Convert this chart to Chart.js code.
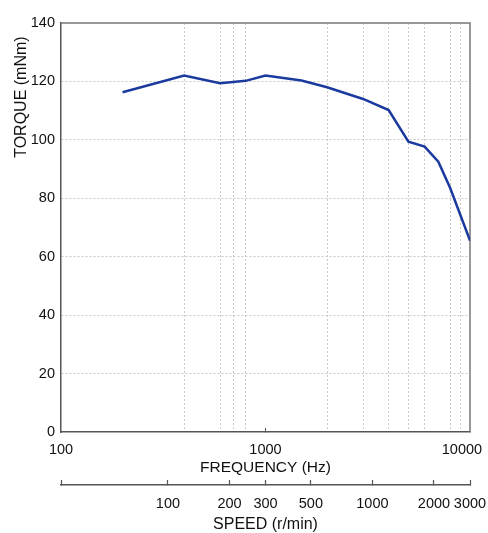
<!DOCTYPE html>
<html>
<head>
<meta charset="utf-8">
<script src="https://cdn.jsdelivr.net/npm/chart.js@4.4.1/dist/chart.umd.min.js"></script>
<style>
  html, body { margin: 0; padding: 0; background: #fff; }
  #wrap { width: 488px; height: 533px; }
</style>
</head>
<body>
<div id="wrap"><canvas id="grafica"></canvas></div>
<script>
// --- datos ---
const freq = [200, 400, 600, 800, 1000, 1500, 2000, 3000, 4000, 5000, 6000, 7000, 8000, 10000];
const torque = [116.3, 122.0, 119.4, 120.2, 122.0, 120.3, 118.0, 114.0, 110.2, 99.4, 97.7, 92.5, 83.5, 65.5];

const freqLabels = [100, 1000, 10000];
const freqGrid = [400, 600, 700, 800, 2000, 3000, 4000, 5000, 6000, 8000, 9000];
const speedTicks = [30, 100, 200, 300, 500, 1000, 2000, 3000];
const speedLabels = [100, 200, 300, 500, 1000, 2000, 3000];
const torqueTicks = [0, 20, 40, 60, 80, 100, 120, 140];

const NUM = '"Liberation Sans", Arial, sans-serif';
const SANS = '"Liberation Sans", Arial, sans-serif';
const TEXT = '#111';
const AXIS = '#555';
const GRID = '#c8c8c8';
const NB = '\u00a0';

// marco superior y derecho del área de la gráfica
const marco = {
  id: 'marco',
  beforeDatasetsDraw(chart) {
    const { ctx, chartArea: a } = chart;
    ctx.save();
    ctx.strokeStyle = '#777';
    ctx.lineWidth = 1.5;
    ctx.beginPath();
    ctx.moveTo(a.left, a.top);
    ctx.lineTo(a.right, a.top);
    ctx.lineTo(a.right, a.bottom);
    ctx.stroke();
    ctx.restore();
  }
};

const ctx = document.getElementById('grafica').getContext('2d');

new Chart(ctx, {
  type: 'line',
  data: {
    datasets: [{
      data: freq.map((f, i) => ({ x: f, y: torque[i] })),
      borderColor: '#1b3a9e',
      borderWidth: 2.5,
      pointRadius: 0,
      tension: 0,
      fill: false
    }]
  },
  options: {
    responsive: true,
    maintainAspectRatio: false,
    animation: false,
    layout: { padding: { top: 23, right: 18, bottom: 0, left: 0 } },
    plugins: {
      legend: { display: false },
      tooltip: { enabled: false }
    },
    scales: {
      x: {
        type: 'logarithmic',
        position: 'bottom',
        weight: 0,
        min: 100,
        max: 10000,
        afterBuildTicks: s => {
          s.ticks = freqLabels.concat(freqGrid).sort((a, b) => a - b).map(v => ({ value: v }));
        },
        afterFit: s => { s.height = 53; s.paddingLeft = 0; s.paddingRight = 0; },
        ticks: {
          autoSkip: false,
          maxRotation: 0,
          padding: 13,
          color: TEXT,
          font: { family: NUM, size: 14.5 },
          // la última etiqueta se corre a la izquierda para que quepa
          callback: v => !freqLabels.includes(v) ? '' : (v === 10000 ? String(v) + NB.repeat(4) : String(v))
        },
        grid: {
          tickLength: -4,
          lineWidth: 1,
          color: c => freqGrid.includes(c.tick && c.tick.value) ? GRID : 'rgba(0,0,0,0)',
          tickColor: c => (c.tick && c.tick.value === 1000) ? AXIS : 'rgba(0,0,0,0)'
        },
        border: { color: AXIS, width: 1.5, dash: [2, 2] },
        title: {
          display: true,
          text: 'FREQUENCY (Hz)',
          color: TEXT,
          font: { family: SANS, size: 15.5 },
          padding: { top: 0, bottom: 8 }
        }
      },
      speed: {
        type: 'logarithmic',
        position: 'bottom',
        axis: 'x',
        weight: 1,
        min: 30,
        max: 3000,
        afterBuildTicks: s => { s.ticks = speedTicks.map(v => ({ value: v })); },
        afterFit: s => { s.height = 48; s.paddingLeft = 0; s.paddingRight = 0; },
        ticks: {
          autoSkip: false,
          maxRotation: 0,
          padding: 15,
          color: TEXT,
          font: { family: NUM, size: 14.5 },
          callback: v => speedLabels.includes(v) ? String(v) : ''
        },
        grid: { drawOnChartArea: false, tickLength: -5, tickColor: AXIS, tickWidth: 1.2 },
        border: { color: AXIS, width: 1.5 },
        title: {
          display: true,
          text: 'SPEED (r/min)',
          color: TEXT,
          font: { family: SANS, size: 16, lineHeight: 1 },
          padding: { top: 0, bottom: 0 }
        }
      },
      y: {
        min: 0,
        max: 140,
        afterBuildTicks: s => { s.ticks = torqueTicks.map(v => ({ value: v })); },
        afterFit: s => { s.width = 61; s.paddingTop = 0; s.paddingBottom = 0; },
        ticks: {
          padding: 6,
          color: TEXT,
          font: { family: NUM, size: 14.5 }
        },
        grid: {
          drawTicks: false,
          lineWidth: 1,
          color: c => (c.tick && (c.tick.value === 0 || c.tick.value === 140)) ? 'rgba(0,0,0,0)' : GRID
        },
        border: { color: AXIS, width: 1.5, dash: [2, 2] },
        title: {
          display: true,
          text: 'TORQUE (mNm)' + NB.repeat(3),
          align: 'end',
          color: TEXT,
          font: { family: SANS, size: 16 },
          padding: { top: 12, bottom: 0 }
        }
      }
    }
  },
  plugins: [marco]
});
</script>
</body>
</html>
